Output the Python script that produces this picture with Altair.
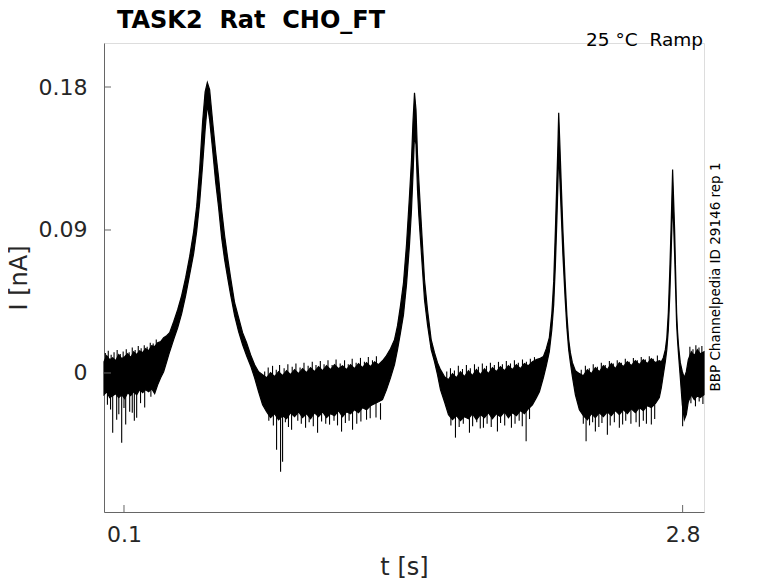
import altair as alt
import pandas as pd

# ---- data (t in s, current in nA) ----
t_band = [0.0034, 0.0164, 0.0309, 0.0454, 0.0599, 0.0744, 0.0889, 0.1034, 0.1179, 0.1323,
          0.1468, 0.1613, 0.1758, 0.1903, 0.2048, 0.2193, 0.2338, 0.2483, 0.2628, 0.2772,
          0.2917, 0.3062, 0.3207, 0.3400, 0.3594, 0.3787, 0.3980, 0.4173, 0.4366, 0.4511,
          0.4656, 0.4801, 0.4922, 0.5028, 0.5139, 0.5284, 0.5429, 0.5574, 0.5719, 0.5864,
          0.6009, 0.6153, 0.6347, 0.6540, 0.6733, 0.6926, 0.7119, 0.7313, 0.7506, 0.7699,
          0.7892, 0.8085, 0.8279, 0.8472, 0.8665, 0.8858, 0.9051, 0.9245, 0.9438, 0.9631,
          0.9824, 1.0017, 1.0211, 1.0404, 1.0597, 1.0790, 1.0983, 1.1177, 1.1370, 1.1563,
          1.1756, 1.1949, 1.2143, 1.2336, 1.2529, 1.2722, 1.2915, 1.3109, 1.3302, 1.3495,
          1.3688, 1.3881, 1.4075, 1.4220, 1.4364, 1.4509, 1.4654, 1.4799, 1.4896, 1.4968,
          1.5041, 1.5113, 1.5186, 1.5248, 1.5330, 1.5427, 1.5524, 1.5669, 1.5847, 1.6007,
          1.6152, 1.6296, 1.6490, 1.6683, 1.6876, 1.7069, 1.7262, 1.7456, 1.7649, 1.7842,
          1.8035, 1.8228, 1.8422, 1.8615, 1.8808, 1.9001, 1.9194, 1.9388, 1.9581, 1.9774,
          1.9967, 2.0160, 2.0354, 2.0547, 2.0740, 2.0933, 2.1078, 2.1268, 2.1412, 2.1557,
          2.1678, 2.1769, 2.1851, 2.1923, 2.1972, 2.2010, 2.2059, 2.2126, 2.2213, 2.2319,
          2.2406, 2.2493, 2.2575, 2.2672, 2.2817, 2.3010, 2.3203, 2.3397, 2.3590, 2.3783,
          2.3976, 2.4169, 2.4363, 2.4556, 2.4749, 2.4942, 2.5135, 2.5329, 2.5522, 2.5715,
          2.5908, 2.6101, 2.6295, 2.6488, 2.6681, 2.6874, 2.6971, 2.7067, 2.7164, 2.7236,
          2.7309, 2.7381, 2.7439, 2.7478, 2.7516, 2.7565, 2.7613, 2.7661, 2.7710, 2.7758,
          2.7806, 2.7888, 2.7985, 2.8082, 2.8178, 2.8275, 2.8420, 2.8565, 2.8710, 2.8854,
          2.9033]

i_upper = [0.0071, 0.0109, 0.0084, 0.0096, 0.0077, 0.0115, 0.0090, 0.0103, 0.0121, 0.0096,
           0.0134, 0.0115, 0.0140, 0.0128, 0.0153, 0.0140, 0.0172, 0.0166, 0.0191, 0.0197,
           0.0222, 0.0235, 0.0254, 0.0323, 0.0398, 0.0487, 0.0600, 0.0732, 0.0889, 0.1047,
           0.1280, 0.1582, 0.1770, 0.1829, 0.1783, 0.1582, 0.1393, 0.1229, 0.1028, 0.0864,
           0.0726, 0.0600, 0.0442, 0.0348, 0.0254, 0.0191, 0.0115, 0.0052, 0.0008, -0.0011,
           -0.0030, 0.0002, -0.0023, 0.0008, -0.0017, 0.0014, -0.0011, 0.0021, -0.0004, 0.0027,
           0.0002, 0.0033, 0.0008, 0.0040, 0.0014, 0.0046, 0.0021, 0.0052, 0.0027, 0.0046,
           0.0021, 0.0052, 0.0027, 0.0059, 0.0033, 0.0065, 0.0040, 0.0071, 0.0052, 0.0077,
           0.0109, 0.0153, 0.0210, 0.0298, 0.0424, 0.0568, 0.0807, 0.1116, 0.1342, 0.1582,
           0.1764, 0.1657, 0.1374, 0.1217, 0.1028, 0.0807, 0.0587, 0.0398, 0.0210, 0.0128,
           0.0065, 0.0021, -0.0023, -0.0042, -0.0004, -0.0030, 0.0008, -0.0023, 0.0014, -0.0017,
           0.0021, -0.0011, 0.0027, -0.0004, 0.0033, 0.0008, 0.0040, 0.0014, 0.0046, 0.0021,
           0.0052, 0.0027, 0.0059, 0.0046, 0.0071, 0.0084, 0.0090, 0.0103, 0.0153, 0.0222,
           0.0373, 0.0575, 0.0902, 0.1217, 0.1437, 0.1638, 0.1468, 0.1217, 0.0902, 0.0587,
           0.0367, 0.0210, 0.0128, 0.0065, 0.0014, -0.0004, -0.0017, 0.0021, -0.0004, 0.0033,
           0.0008, 0.0046, 0.0021, 0.0059, 0.0027, 0.0065, 0.0040, 0.0071, 0.0046, 0.0077,
           0.0052, 0.0084, 0.0059, 0.0090, 0.0065, 0.0077, 0.0071, 0.0096, 0.0147, 0.0222,
           0.0380, 0.0650, 0.0902, 0.1091, 0.1280, 0.1091, 0.0902, 0.0638, 0.0380, 0.0254,
           0.0166, 0.0065, 0.0008, -0.0030, 0.0008, 0.0084, 0.0134, 0.0109, 0.0147, 0.0121,
           0.0134]

i_lower = [-0.0137, -0.0118, -0.0155, -0.0143, -0.0130, -0.0155, -0.0137, -0.0162, -0.0124, -0.0143,
           -0.0118, -0.0137, -0.0105, -0.0124, -0.0105, -0.0118, -0.0099, -0.0130, -0.0074, -0.0030,
           0.0008, 0.0071, 0.0134, 0.0210, 0.0285, 0.0373, 0.0487, 0.0619, 0.0751, 0.0889,
           0.1072, 0.1311, 0.1531, 0.1689, 0.1594, 0.1405, 0.1204, 0.1040, 0.0852, 0.0713,
           0.0600, 0.0493, 0.0361, 0.0260, 0.0178, 0.0109, 0.0046, -0.0030, -0.0118, -0.0200,
           -0.0244, -0.0281, -0.0256, -0.0294, -0.0269, -0.0288, -0.0250, -0.0275, -0.0244, -0.0281,
           -0.0256, -0.0288, -0.0250, -0.0275, -0.0244, -0.0281, -0.0256, -0.0269, -0.0237, -0.0275,
           -0.0244, -0.0256, -0.0231, -0.0250, -0.0218, -0.0231, -0.0206, -0.0193, -0.0181, -0.0168,
           -0.0105, -0.0030, 0.0052, 0.0147, 0.0254, 0.0367, 0.0556, 0.0807, 0.1028, 0.1248,
           0.1500, 0.1437, 0.1154, 0.0996, 0.0839, 0.0650, 0.0461, 0.0304, 0.0147, 0.0071,
           -0.0011, -0.0105, -0.0181, -0.0262, -0.0294, -0.0269, -0.0300, -0.0275, -0.0288, -0.0256,
           -0.0294, -0.0262, -0.0281, -0.0250, -0.0288, -0.0256, -0.0275, -0.0244, -0.0281, -0.0250,
           -0.0269, -0.0237, -0.0256, -0.0225, -0.0200, -0.0155, -0.0118, -0.0030, 0.0046, 0.0134,
           0.0273, 0.0430, 0.0682, 0.0965, 0.1185, 0.1405, 0.1248, 0.1028, 0.0745, 0.0474,
           0.0285, 0.0147, 0.0065, -0.0023, -0.0137, -0.0231, -0.0269, -0.0294, -0.0256, -0.0281,
           -0.0250, -0.0275, -0.0244, -0.0269, -0.0237, -0.0262, -0.0231, -0.0256, -0.0225, -0.0250,
           -0.0218, -0.0237, -0.0206, -0.0218, -0.0193, -0.0155, -0.0093, -0.0011, 0.0071, 0.0147,
           0.0273, 0.0493, 0.0726, 0.0902, 0.1091, 0.0933, 0.0745, 0.0524, 0.0304, 0.0197,
           0.0109, -0.0030, -0.0200, -0.0294, -0.0262, -0.0181, -0.0137, -0.0168, -0.0143, -0.0155,
           -0.0137]

# downward noise spikes (t, where they leave the band, how low they reach)
t_spike = [0.0454, 0.0647, 0.0889, 0.1082, 0.1275, 0.1613, 0.2000,
           0.0200, 0.0350, 0.0750, 0.1000, 0.1400, 0.1500, 0.1800, 0.2300,
           0.8375, 0.8568, 0.8665, 0.9100, 0.9776, 1.0356, 1.0935, 1.1515, 1.2046, 1.2722, 1.3398,
           0.8000, 0.8220, 0.8800, 0.8950, 0.9400, 0.9570, 0.9950, 1.0150, 1.0550, 1.0750,
           1.1150, 1.1320, 1.1700, 1.1880, 1.2250, 1.2450, 1.2900, 1.3180,
           1.7021, 1.7697, 1.8373, 1.9050, 1.9726, 2.0436,
           1.6800, 1.7200, 1.7400, 1.7850, 1.8050, 1.8220, 1.8550, 1.8750, 1.9200, 1.9400,
           1.9900, 2.0100, 2.0250, 2.0600,
           2.3334, 2.3783, 2.4363, 2.4942, 2.5908, 2.6488, 2.8000,
           2.3200, 2.3500, 2.3650, 2.3950, 2.4100, 2.4500, 2.4700, 2.5100, 2.5250, 2.5500,
           2.5750, 2.6100, 2.6250, 2.6650,
           2.8400, 2.8620, 2.8800, 2.8980]
i_spike_top = [-0.0130, -0.0130, -0.0130, -0.0130, -0.0130, -0.0130, -0.0100,
               -0.0120, -0.0120, -0.0120, -0.0120, -0.0110, -0.0110, -0.0100, -0.0090,
               -0.0220, -0.0220, -0.0220, -0.0220, -0.0220, -0.0220, -0.0220, -0.0220, -0.0220, -0.0210, -0.0190,
               -0.0220, -0.0220, -0.0220, -0.0220, -0.0220, -0.0220, -0.0220, -0.0220, -0.0220, -0.0220,
               -0.0220, -0.0220, -0.0220, -0.0220, -0.0210, -0.0210, -0.0190, -0.0180,
               -0.0230, -0.0230, -0.0230, -0.0230, -0.0230, -0.0220,
               -0.0230, -0.0230, -0.0230, -0.0230, -0.0230, -0.0230, -0.0230, -0.0230, -0.0230, -0.0230,
               -0.0230, -0.0220, -0.0220, -0.0210,
               -0.0230, -0.0230, -0.0230, -0.0230, -0.0210, -0.0200, -0.0190,
               -0.0230, -0.0230, -0.0230, -0.0230, -0.0230, -0.0230, -0.0230, -0.0230, -0.0230, -0.0220,
               -0.0220, -0.0210, -0.0210, -0.0200,
               -0.0130, -0.0140, -0.0130, -0.0130]
i_spike_bottom = [-0.0376, -0.0294, -0.0439, -0.0325, -0.0244, -0.0281, -0.0218,
                  -0.0200, -0.0230, -0.0260, -0.0220, -0.0250, -0.0300, -0.0190, -0.0150,
                  -0.0483, -0.0621, -0.0558, -0.0357, -0.0344, -0.0376, -0.0325, -0.0369, -0.0357, -0.0294, -0.0294,
                  -0.0300, -0.0330, -0.0310, -0.0340, -0.0300, -0.0320, -0.0310, -0.0335, -0.0305, -0.0320,
                  -0.0300, -0.0330, -0.0315, -0.0300, -0.0320, -0.0305, -0.0285, -0.0280,
                  -0.0407, -0.0376, -0.0344, -0.0369, -0.0344, -0.0430,
                  -0.0330, -0.0340, -0.0320, -0.0335, -0.0310, -0.0350, -0.0320, -0.0340, -0.0315, -0.0330,
                  -0.0320, -0.0300, -0.0335, -0.0290,
                  -0.0430, -0.0369, -0.0388, -0.0344, -0.0338, -0.0325, -0.0336,
                  -0.0320, -0.0330, -0.0310, -0.0340, -0.0315, -0.0330, -0.0310, -0.0325, -0.0300, -0.0320,
                  -0.0310, -0.0300, -0.0320, -0.0290,
                  -0.0190, -0.0210, -0.0180, -0.0195]

# upward noise tips on the top edge of the band
t_tip = [0.0100, 0.0240, 0.0380, 0.0520, 0.0670, 0.0820, 0.0960, 0.1110, 0.1250, 0.1400,
         0.1540, 0.1690, 0.1830, 0.1980, 0.2120, 0.2270, 0.2410, 0.2560,
         0.7800, 0.7970, 0.8180, 0.8360, 0.8520, 0.8740, 0.8920, 0.9130, 0.9310, 0.9510,
         0.9700, 0.9900, 1.0100, 1.0280, 1.0490, 1.0670, 1.0860, 1.1060, 1.1250, 1.1450,
         1.1660, 1.1840, 1.2030, 1.2220, 1.2430, 1.2620, 1.2810, 1.3010, 1.3200,
         1.6600, 1.6780, 1.6970, 1.7160, 1.7360, 1.7550, 1.7740, 1.7940, 1.8130, 1.8320,
         1.8520, 1.8710, 1.8900, 1.9100, 1.9290, 1.9480, 1.9680, 1.9870, 2.0060, 2.0260,
         2.0450, 2.0640, 2.0840,
         2.3100, 2.3300, 2.3490, 2.3680, 2.3880, 2.4070, 2.4260, 2.4460, 2.4650, 2.4840,
         2.5040, 2.5230, 2.5420, 2.5620, 2.5810, 2.6000, 2.6200, 2.6390, 2.6580, 2.6780,
         2.8350, 2.8500, 2.8640, 2.8790, 2.8930]
i_tip = [0.0125, 0.0140, 0.0115, 0.0130, 0.0145, 0.0120, 0.0135, 0.0150, 0.0130, 0.0160,
         0.0145, 0.0170, 0.0155, 0.0175, 0.0165, 0.0190, 0.0185, 0.0210,
         0.0010, 0.0035, 0.0045, 0.0020, 0.0050, 0.0030, 0.0055, 0.0040, 0.0060, 0.0035,
         0.0065, 0.0045, 0.0070, 0.0050, 0.0075, 0.0055, 0.0080, 0.0050, 0.0085, 0.0060,
         0.0080, 0.0055, 0.0090, 0.0065, 0.0095, 0.0070, 0.0100, 0.0080, 0.0105,
         0.0010, 0.0030, 0.0015, 0.0045, 0.0025, 0.0050, 0.0030, 0.0055, 0.0040, 0.0060,
         0.0045, 0.0065, 0.0050, 0.0070, 0.0055, 0.0075, 0.0060, 0.0080, 0.0065, 0.0085,
         0.0070, 0.0090, 0.0100,
         0.0020, 0.0045, 0.0030, 0.0055, 0.0040, 0.0065, 0.0050, 0.0075, 0.0060, 0.0080,
         0.0065, 0.0090, 0.0070, 0.0095, 0.0080, 0.0100, 0.0085, 0.0105, 0.0090, 0.0110,
         0.0165, 0.0150, 0.0175, 0.0160, 0.0170]
i_tip_base = [0.0040] * 18 + [-0.0060] * 29 + [-0.0060] * 23 + [-0.0050] * 20 + [0.0060] * 5

x_ticks = [0.1, 2.8]
y_ticks = [0, 0.09, 0.18]

NB = "\u00a0"
title_text = "TASK2" + NB * 2 + "Rat" + NB * 2 + "CHO_FT"
cond_text = "25 °C" + NB * 2 + "Ramp"
side_text = "BBP Channelpedia ID 29146 rep 1"

# ---- chart ----
W, H = 600, 469
FONT = "DejaVu Sans"
TXT = "#262626"
AX = "#666666"

band = pd.DataFrame({"t": t_band, "hi": i_upper, "lo": i_lower})
spikes = pd.DataFrame({"t": t_spike, "top": i_spike_top, "bot": i_spike_bottom})
tips = pd.DataFrame({"t": t_tip, "top": i_tip, "bot": i_tip_base})

xs = alt.Scale(domain=[0.0034, 2.9033], nice=False, zero=False)
ys = alt.Scale(domain=[-0.0875, 0.2077], nice=False, zero=False)

x_axis = alt.Axis(values=x_ticks, format="~g", title="t [s]", tickSize=0, labelPadding=12,
                  labelFontSize=22, titleFontSize=24, titlePadding=10, grid=False,
                  domainColor=AX, labelColor=TXT, titleColor=TXT, labelFont=FONT,
                  titleFont=FONT, titleFontWeight="normal")
y_axis = alt.Axis(values=y_ticks, format="~g", title="I [nA]", tickSize=0, labelPadding=17,
                  labelFontSize=22, titleFontSize=24, titlePadding=7, grid=False,
                  domainColor=AX, labelColor=TXT, titleColor=TXT, labelFont=FONT,
                  titleFont=FONT, titleFontWeight="normal")

area = alt.Chart(band).mark_area(color="black", stroke="black", strokeWidth=1.2,
                                 interpolate="linear").encode(
    x=alt.X("t:Q", scale=xs, axis=x_axis),
    y=alt.Y("hi:Q", scale=ys, axis=y_axis),
    y2="lo:Q",
)

spike = alt.Chart(spikes).mark_rule(color="black", strokeWidth=1.1).encode(
    x=alt.X("t:Q", scale=xs),
    y=alt.Y("top:Q", scale=ys),
    y2="bot:Q",
)

tip = alt.Chart(tips).mark_rule(color="black", strokeWidth=1.1).encode(
    x=alt.X("t:Q", scale=xs),
    y=alt.Y("top:Q", scale=ys),
    y2="bot:Q",
)

ytick = alt.Chart(pd.DataFrame({"v": y_ticks})).mark_rule(color=AX, strokeWidth=1).encode(
    y=alt.Y("v:Q", scale=ys), x=alt.value(0), x2=alt.value(7))
xtick = alt.Chart(pd.DataFrame({"v": x_ticks})).mark_rule(color=AX, strokeWidth=1).encode(
    x=alt.X("v:Q", scale=xs), y=alt.value(H), y2=alt.value(H - 7))

title = alt.Chart(pd.DataFrame({"s": [title_text]})).mark_text(
    font=FONT, fontSize=24, fontWeight="bold", align="left", baseline="alphabetic", color="black"
).encode(text="s:N", x=alt.value(13), y=alt.value(-15.5))

cond = alt.Chart(pd.DataFrame({"s": [cond_text]})).mark_text(
    font=FONT, fontSize=18.5, align="right", baseline="middle", color="black"
).encode(text="s:N", x=alt.value(599), y=alt.value(-3))

side = alt.Chart(pd.DataFrame({"s": [side_text]})).mark_text(
    font=FONT, fontSize=13.5, align="center", baseline="middle", angle=270, color="black"
).encode(text="s:N", x=alt.value(612), y=alt.value(234))

chart = alt.layer(area, spike, tip, ytick, xtick, title, cond, side).properties(
    width=W, height=H,
    autosize=alt.AutoSizeParams(type="none"),
    padding={"left": 96, "top": 35, "right": 60, "bottom": 70},
).configure_view(stroke=None).configure(background="white")

chart.save("out.html", embed_options={"renderer": "svg", "actions": False})
